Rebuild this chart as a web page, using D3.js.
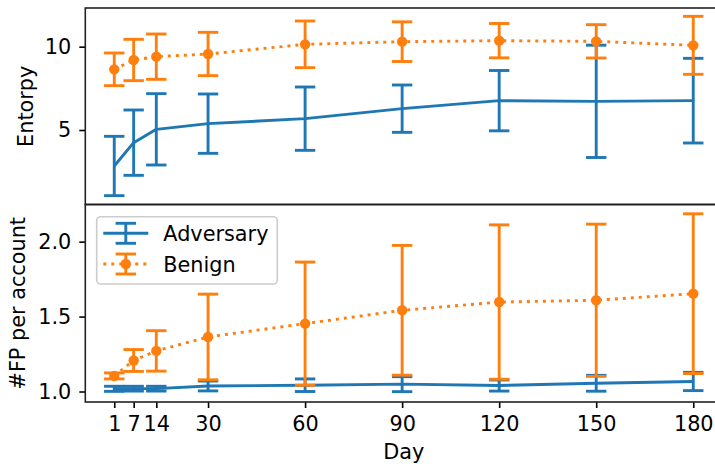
<!DOCTYPE html>
<html>
<head>
<meta charset="utf-8">
<script src="https://cdn.jsdelivr.net/npm/d3@7"></script>
<style>
  html, body { margin: 0; padding: 0; background: #fff; }
  svg { display: block; }
  text { font-family: "DejaVu Sans", sans-serif; }
</style>
</head>
<body>
<svg id="chart" width="715" height="464"></svg>
<script>
// ---- data ----
const days = [1, 7, 14, 30, 60, 90, 120, 150, 180];
const xTicks = [1, 7, 14, 30, 60, 90, 120, 150, 180];

const entropyAdvMean = [2.84, 4.24, 5.04, 5.38, 5.68, 6.28, 6.76, 6.72, 6.76];
const entropyAdvErr  = [1.78, 1.96, 2.14, 1.78, 1.90, 1.42, 1.81, 3.37, 2.54];
const entropyBenMean = [8.64, 9.20, 9.40, 9.56, 10.14, 10.30, 10.36, 10.32, 10.08];
const entropyBenErr  = [0.98, 1.24, 1.36, 1.30, 1.40, 1.19, 1.03, 1.00, 1.74];

const fpAdvMean = [1.018, 1.019, 1.019, 1.037, 1.042, 1.049, 1.040, 1.055, 1.067];
const fpAdvErr  = [0.017, 0.016, 0.016, 0.033, 0.042, 0.050, 0.037, 0.053, 0.061];
const fpBenMean = [1.104, 1.207, 1.271, 1.364, 1.453, 1.542, 1.597, 1.609, 1.653];
const fpBenErr  = [0.020, 0.073, 0.135, 0.286, 0.411, 0.433, 0.515, 0.508, 0.533];

const entropyTicks = [5, 10];
const fpTicks = [1.0, 1.5, 2.0];

const seriesNames = ["Adversary", "Benign"];
const colors = ["#1f77b4", "#ff7f0e"];

// ---- layout ----
const svg = d3.select("#chart");
const left = 85.3, right = 722.2;
const fontSize = 20.8;
const lw = 2.9;
const cap = 10.2;

const x = d3.scaleLinear().domain([-7.95, 188.95]).range([left, right]);

const panels = [
  { top: 8, bottom: 204.5, domain: [0.53, 12.32], ticks: entropyTicks, fmt: d3.format("d"),
    label: "Entorpy", labelX: 32.6,
    series: [ {mean: entropyAdvMean, err: entropyAdvErr}, {mean: entropyBenMean, err: entropyBenErr} ] },
  { top: 204.5, bottom: 402, domain: [0.93, 2.248], ticks: fpTicks, fmt: d3.format(".1f"),
    label: "#FP per account", labelX: 24.6,
    series: [ {mean: fpAdvMean, err: fpAdvErr}, {mean: fpBenMean, err: fpBenErr} ] }
];

function drawSeries(g, y, s, i) {
  const color = colors[i];
  const pts = days.map((d, k) => ({ d, m: s.mean[k], e: s.err[k] }));
  const sg = g.append("g");
  // error bars
  const eb = sg.selectAll(".eb").data(pts).enter().append("g");
  eb.append("line")
    .attr("x1", p => x(p.d)).attr("x2", p => x(p.d))
    .attr("y1", p => y(p.m - p.e)).attr("y2", p => y(p.m + p.e))
    .attr("stroke", color).attr("stroke-width", lw);
  [-1, 1].forEach(sgn => {
    eb.append("line")
      .attr("x1", p => x(p.d) - cap).attr("x2", p => x(p.d) + cap)
      .attr("y1", p => y(p.m + sgn * p.e)).attr("y2", p => y(p.m + sgn * p.e))
      .attr("stroke", color).attr("stroke-width", lw);
  });
  // line
  const line = d3.line().x(p => x(p.d)).y(p => y(p.m));
  const path = sg.append("path").datum(pts).attr("d", line)
    .attr("fill", "none").attr("stroke", color).attr("stroke-width", lw)
    .attr("stroke-linejoin", "round");
  if (i === 1) {
    path.attr("stroke-dasharray", "3,5").attr("stroke-linecap", "butt");
    sg.selectAll(".mk").data(pts).enter().append("circle")
      .attr("cx", p => x(p.d)).attr("cy", p => y(p.m)).attr("r", 5.2)
      .attr("fill", color);
  }
}

panels.forEach((P, pi) => {
  const y = d3.scaleLinear().domain(P.domain).range([P.bottom, P.top]);
  const g = svg.append("g");

  P.series.forEach((s, i) => drawSeries(g, y, s, i));

  // y axis
  const ya = svg.append("g").attr("transform", `translate(${left},0)`)
    .call(d3.axisLeft(y).tickValues(P.ticks).tickFormat(P.fmt).tickSize(6).tickPadding(8));
  ya.select(".domain").remove();
  ya.selectAll(".tick line").attr("stroke", "#000").attr("stroke-width", 1.6);
  ya.selectAll(".tick text").attr("font-size", fontSize).attr("fill", "#000")
    .attr("font-family", "DejaVu Sans");

  // y label
  const cy = (P.top + P.bottom) / 2;
  svg.append("text")
    .attr("transform", `translate(${P.labelX},${cy}) rotate(-90)`)
    .attr("text-anchor", "middle")
    .attr("font-size", fontSize).attr("fill", "#000")
    .text(P.label);

  if (pi === 1) {
    const xa = svg.append("g").attr("transform", `translate(0,${P.bottom})`)
      .call(d3.axisBottom(x).tickValues(xTicks).tickFormat(d3.format("d")).tickSize(6).tickPadding(8));
    xa.select(".domain").remove();
    xa.selectAll(".tick line").attr("stroke", "#000").attr("stroke-width", 1.6);
    xa.selectAll(".tick text").attr("font-size", fontSize).attr("fill", "#000")
      .attr("font-family", "DejaVu Sans");
  }

  // frame
  svg.append("rect")
    .attr("x", left).attr("y", P.top)
    .attr("width", right - left).attr("height", P.bottom - P.top)
    .attr("fill", "none").attr("stroke", "#222").attr("stroke-width", 1.6);
});

// x label
svg.append("text")
  .attr("x", (left + right) / 2).attr("y", 459)
  .attr("text-anchor", "middle")
  .attr("font-size", fontSize).attr("fill", "#000")
  .text("Day");

// legend
const lg = svg.append("g");
lg.append("rect")
  .attr("x", 96.7).attr("y", 216.7).attr("width", 180.6).attr("height", 67.3)
  .attr("rx", 4).attr("ry", 4)
  .attr("fill", "#fff").attr("fill-opacity", 0.8)
  .attr("stroke", "#cccccc").attr("stroke-width", 1.6);
const rowsY = [233.3, 264];
seriesNames.forEach((name, i) => {
  const cy = rowsY[i];
  const x1 = 103.3, x2 = 148.3, cx = (x1 + x2) / 2;
  const c = colors[i];
  const h = lg.append("line").attr("x1", x1).attr("x2", x2).attr("y1", cy).attr("y2", cy)
    .attr("stroke", c).attr("stroke-width", lw);
  if (i === 1) h.attr("stroke-dasharray", "3,5");
  lg.append("line").attr("x1", cx).attr("x2", cx).attr("y1", cy - 10).attr("y2", cy + 10)
    .attr("stroke", c).attr("stroke-width", lw);
  [-10, 10].forEach(o => {
    lg.append("line").attr("x1", cx - cap).attr("x2", cx + cap).attr("y1", cy + o).attr("y2", cy + o)
      .attr("stroke", c).attr("stroke-width", lw);
  });
  if (i === 1) lg.append("circle").attr("cx", cx).attr("cy", cy).attr("r", 5.2).attr("fill", c);
  lg.append("text").attr("x", 163.3).attr("y", cy + 7.5)
    .attr("font-size", fontSize).attr("fill", "#000").text(name);
});
</script>
</body>
</html>
